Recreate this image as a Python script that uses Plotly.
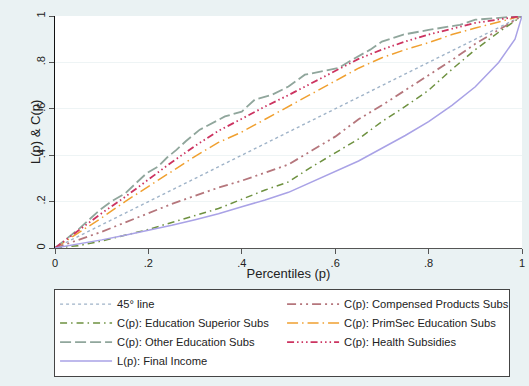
import plotly.graph_objects as go

# ---- data ----
p_grid = [0, .05, .1, .15, .2, .25, .3, .35, .4, .45, .5, .55, .6, .65, .7, .75, .8, .85, .9, .95, 1]
diag = p_grid

p_final = [0, .05, .1, .15, .2, .25, .3, .35, .4, .45, .5, .55, .6, .65, .7, .75, .8, .85, .9, .95, .985, 1]
final_income = [0, .016, .035, .055, .076, .098, .122, .148, .178, .207, .24, .285, .33, .375, .43, .485, .545, .615, .695, .80, .90, 1]

edu_superior = [0, .01, .03, .055, .08, .11, .14, .17, .21, .25, .285, .35, .41, .47, .545, .61, .68, .77, .855, .93, 1]
compensed = [0, .035, .07, .11, .15, .19, .225, .26, .29, .325, .36, .42, .48, .555, .615, .68, .745, .81, .88, .94, 1]
primsec = [0, .065, .13, .2, .265, .33, .395, .455, .50, .555, .61, .665, .72, .775, .82, .855, .885, .92, .948, .975, 1]
health = [0, .075, .15, .22, .295, .37, .44, .505, .557, .61, .659, .71, .763, .815, .855, .89, .92, .945, .97, .985, 1]

p_other = [0, .05, .096, .12, .15, .175, .196, .22, .24, .26, .28, .31, .343, .364, .4, .428, .464, .5, .535, .571, .607, .635, .675, .7, .746, .8, .867, .9, .939, 1]
other_edu = [0, .08, .164, .2, .235, .28, .322, .35, .39, .423, .46, .51, .545, .567, .588, .64, .66, .696, .747, .76, .776, .81, .855, .89, .92, .94, .962, .984, .99, 1]

x_ticks = [0, .2, .4, .6, .8, 1]
x_labels = ["0", ".2", ".4", ".6", ".8", "1"]
y_ticks = [0, .2, .4, .6, .8, 1]
y_labels = ["0", ".2", ".4", ".6", ".8", "1"]

series = [
    ("45° line", p_grid, diag, "#9FB3C8", "dot", 1.4),
    ("C(p): Compensed Products Subs", p_grid, compensed, "#B5767C", "9px,4px,2px,4px,2px,4px", 1.8),
    ("C(p): Education Superior Subs", p_grid, edu_superior, "#6E9140", "7px,4px,1.5px,4px", 1.5),
    ("C(p): PrimSec Education Subs", p_grid, primsec, "#F0A030", "11px,4px,1.5px,4px", 1.5),
    ("C(p): Other Education Subs", p_other, other_edu, "#90A69C", "11px,4px", 1.8),
    ("C(p): Health Subsidies", p_grid, health, "#CC3360", "7px,3px,1.5px,3px,1.5px,3px,1.5px,3px", 1.8),
    ("L(p): Final Income", p_final, final_income, "#A9A2E6", "solid", 1.5),
]

fig = go.Figure()
for name, xs, ys, col, dash, w in series:
    fig.add_trace(go.Scatter(x=xs, y=ys, mode="lines", name=name,
                             line=dict(color=col, dash=dash, width=w)))

font_family = "Liberation Sans, Arial, sans-serif"
fig.update_layout(
    width=529, height=386,
    margin=dict(l=55, r=7, t=16, b=138, autoexpand=False),
    paper_bgcolor="#EAF2F3",
    plot_bgcolor="white",
    font=dict(family=font_family, color="#222222", size=11),
    showlegend=True,
    legend=dict(
        orientation="h", x=-0.002, xanchor="left", y=-0.175, yanchor="top",
        bgcolor="white", bordercolor="#444444", borderwidth=1,
        entrywidth=160, entrywidthmode="pixels",
        font=dict(size=11.2, family=font_family, color="#222222"),
        tracegroupgap=0, traceorder="normal", itemwidth=52,
    ),
    xaxis=dict(
        range=[0, 1], tickvals=x_ticks, ticktext=x_labels,
        showgrid=False, zeroline=False,
        showline=True, linecolor="#555555", linewidth=1.2,
        ticks="outside", ticklen=5, tickcolor="#555555",
        tickfont=dict(size=11),
        title=dict(text="Percentiles (p)", font=dict(size=13), standoff=0),
    ),
    yaxis=dict(
        range=[0, 1], tickvals=y_ticks, ticktext=y_labels,
        showgrid=True, gridcolor="#EEF4F5", gridwidth=1.2, zeroline=False,
        showline=True, linecolor="#111111", linewidth=1.2,
        ticks="outside", ticklen=5, tickcolor="#555555",
        tickangle=-90, tickfont=dict(size=11),
    ),
    annotations=[dict(
        text="L(p) & C(p)", textangle=-90, xref="paper", yref="paper",
        x=0, y=0.5, xanchor="center", yanchor="middle", xshift=-20,
        showarrow=False, font=dict(size=13, family=font_family, color="#222222"),
    )],
)

fig.write_html("out.html")
